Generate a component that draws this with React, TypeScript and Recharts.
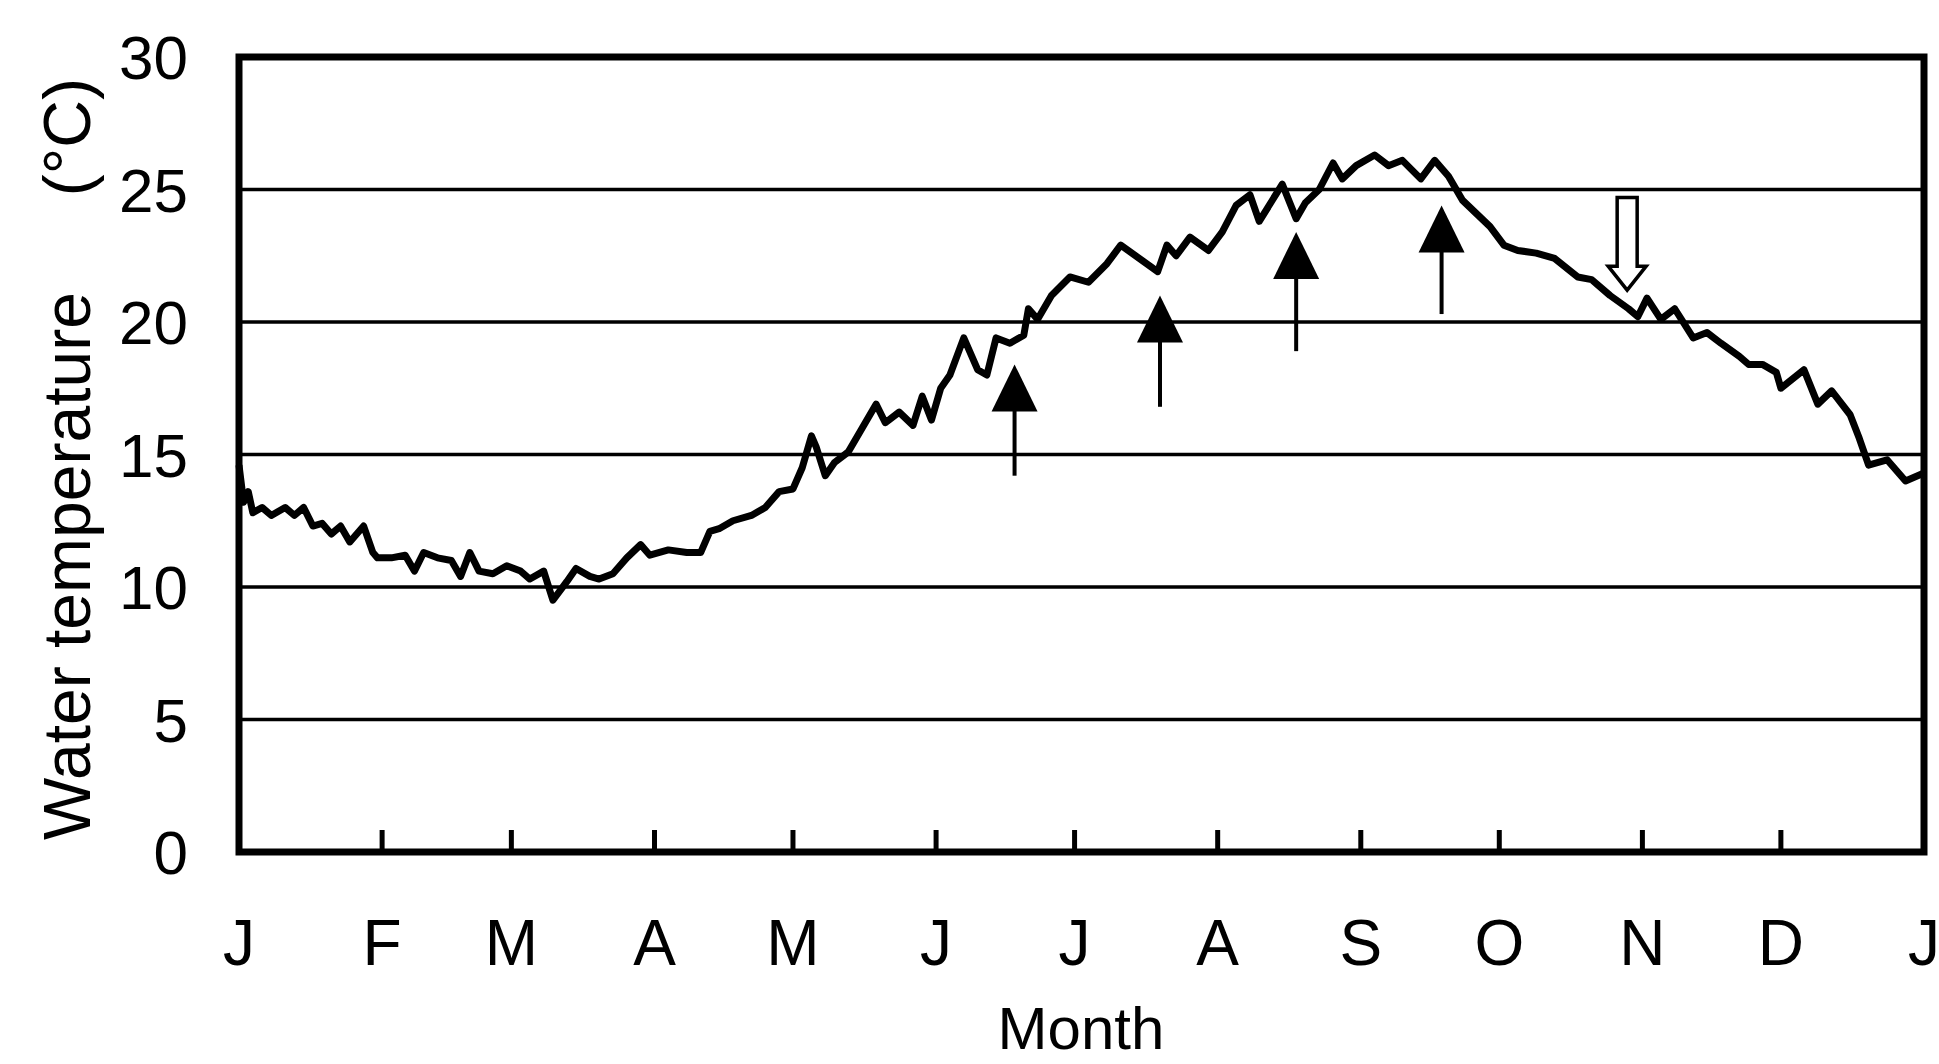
import React from "react"
import { LineChart, Line, XAxis, YAxis, CartesianGrid, ReferenceArea, ReferenceLine } from "recharts"

const FONT = '"Liberation Sans", Arial, Helvetica, sans-serif'

// day of year
const days = [
  0, 1, 2, 3, 5, 7, 10, 12, 14, 16, 18, 20, 22, 24, 27, 29, 30, 33, 36, 38,
  40, 43, 46, 48, 50, 52, 55, 58, 61, 63, 66, 68, 71, 73, 76, 78, 81, 84, 87, 89,
  93, 97, 100, 102, 104, 107, 111, 114, 117, 120, 122, 124, 125, 127, 129, 132, 135, 138, 140, 143,
  146, 148, 150, 152, 154, 157, 160, 162, 164, 167, 170, 171, 173, 176, 180, 184, 188, 191, 195, 199,
  201, 203, 206, 210, 213, 216, 219, 221, 226, 229, 231, 234, 237, 239, 242, 246, 249, 252, 256, 259,
  262, 265, 268, 271, 274, 277, 281, 285, 290, 293, 297, 301, 303, 305, 308, 311, 315, 318, 321, 325,
  327, 330, 333, 334, 339, 342, 345, 349, 351, 353, 357, 361, 365,
]
const temps = [
  14.6, 13.2, 13.6, 12.8, 13.0, 12.7, 13.0, 12.7, 13.0, 12.3, 12.4, 12.0, 12.3, 11.7, 12.3, 11.3, 11.1, 11.1, 11.2, 10.6,
  11.3, 11.1, 11.0, 10.4, 11.3, 10.6, 10.5, 10.8, 10.6, 10.3, 10.6, 9.5, 10.2, 10.7, 10.4, 10.3, 10.5, 11.1, 11.6, 11.2,
  11.4, 11.3, 11.3, 12.1, 12.2, 12.5, 12.7, 13.0, 13.6, 13.7, 14.5, 15.7, 15.3, 14.2, 14.7, 15.1, 16.0, 16.9, 16.2, 16.6,
  16.1, 17.2, 16.3, 17.5, 18.0, 19.4, 18.2, 18.0, 19.4, 19.2, 19.5, 20.5, 20.1, 21.0, 21.7, 21.5, 22.2, 22.9, 22.4, 21.9,
  22.9, 22.5, 23.2, 22.7, 23.4, 24.4, 24.8, 23.8, 25.2, 23.9, 24.5, 25.0, 26.0, 25.4, 25.9, 26.3, 25.9, 26.1, 25.4, 26.1,
  25.5, 24.6, 24.1, 23.6, 22.9, 22.7, 22.6, 22.4, 21.7, 21.6, 21.0, 20.5, 20.2, 20.9, 20.1, 20.5, 19.4, 19.6, 19.2, 18.7,
  18.4, 18.4, 18.1, 17.5, 18.2, 16.9, 17.4, 16.5, 15.6, 14.6, 14.8, 14.0, 14.3,
]

const monthStarts = [0, 31, 59, 90, 120, 151, 181, 212, 243, 273, 304, 334, 365]
const monthLabels = ["J", "F", "M", "A", "M", "J", "J", "A", "S", "O", "N", "D", "J"]
const yTicks = [0, 5, 10, 15, 20, 25, 30]

// solid up arrows: day, tail temp, tip temp
const arrowDays = [168, 199.5, 229, 260.5]
const arrowTails = [14.2, 16.8, 18.9, 20.3]
const arrowTips = [18.4, 21.0, 23.4, 24.4]

// hollow down arrow
const hollowDay = 300.7
const hollowTop = 24.7
const hollowTip = 21.2

const data = days.map((d, i) => ({ day: d, temp: temps[i] }))

const MonthTick = (props: any) => {
  const { x, y, payload } = props
  const i = monthStarts.indexOf(payload.value)
  return (
    <g>
      <line x1={x} x2={x} y1={y} y2={y - 22} stroke="#000" strokeWidth={5} />
      <text x={x} y={y + 113} textAnchor="middle" fontSize={64} fontFamily={FONT} fill="#000">
        {monthLabels[i]}
      </text>
    </g>
  )
}

const SolidArrow = (p: any) => {
  const { x1, y1, x2, y2 } = p
  return (
    <g>
      <line x1={x1} y1={y1} x2={x2} y2={y2 + 30} stroke="#000" strokeWidth={4} />
      <path d={`M${x2},${y2} L${x2 - 23},${y2 + 47} L${x2 + 23},${y2 + 47} Z`} fill="#000" />
    </g>
  )
}

const HollowArrow = (p: any) => {
  const { x1, y1, x2, y2 } = p
  const yb = y2 - 24
  const d = `M${x1 - 10},${y1} L${x1 + 10},${y1} L${x1 + 10},${yb} L${x1 + 19},${yb} L${x2},${y2} L${x1 - 19},${yb} L${x1 - 10},${yb} Z`
  return <path d={d} fill="#fff" stroke="#000" strokeWidth={3.5} strokeLinejoin="miter" />
}

const YLabel = () => (
  <text transform="translate(90,459) rotate(-90)" textAnchor="middle" fontSize={66} fontFamily={FONT} fill="#000">
    <tspan>Water temperature</tspan>
    <tspan dx={96}>(°C)</tspan>
  </text>
)

const XLabel = () => (
  <text x={1081} y={1049} textAnchor="middle" fontSize={60} fontFamily={FONT} fill="#000">
    Month
  </text>
)

export default function App() {
  return (
    <div style={{ position: "absolute", left: 0, top: 0, width: 1939, height: 1064, background: "#fff" }}>
      <LineChart width={1939} height={1064} data={data} margin={{ top: 57, right: 15, bottom: 0, left: 0 }}>
        <CartesianGrid vertical={false} stroke="#000" strokeWidth={3.5} />
        <XAxis
          dataKey="day"
          type="number"
          domain={[0, 365]}
          ticks={monthStarts}
          interval={0}
          height={212}
          tickSize={0}
          tickMargin={0}
          tickLine={false}
          axisLine={false}
          tick={<MonthTick />}
          label={<XLabel />}
        />
        <YAxis
          type="number"
          domain={[0, 30]}
          ticks={yTicks}
          width={239}
          tickSize={0}
          tickMargin={51}
          tickLine={false}
          axisLine={false}
          tick={{ fontSize: 62, fill: "#000", fontFamily: FONT }}
          label={<YLabel />}
        />
        <ReferenceArea x1={0} x2={365} y1={0} y2={30} fill="none" stroke="#000" strokeWidth={7} />
        <Line
          type="linear"
          dataKey="temp"
          stroke="#000"
          strokeWidth={7}
          strokeLinejoin="round"
          dot={false}
          activeDot={false}
          isAnimationActive={false}
        />
        {arrowDays.map((d, i) => (
          <ReferenceLine
            key={"a" + i}
            segment={[{ x: d, y: arrowTails[i] }, { x: d, y: arrowTips[i] }]}
            shape={SolidArrow}
          />
        ))}
        <ReferenceLine
          segment={[{ x: hollowDay, y: hollowTop }, { x: hollowDay, y: hollowTip }]}
          shape={HollowArrow}
        />
      </LineChart>
    </div>
  )
}
